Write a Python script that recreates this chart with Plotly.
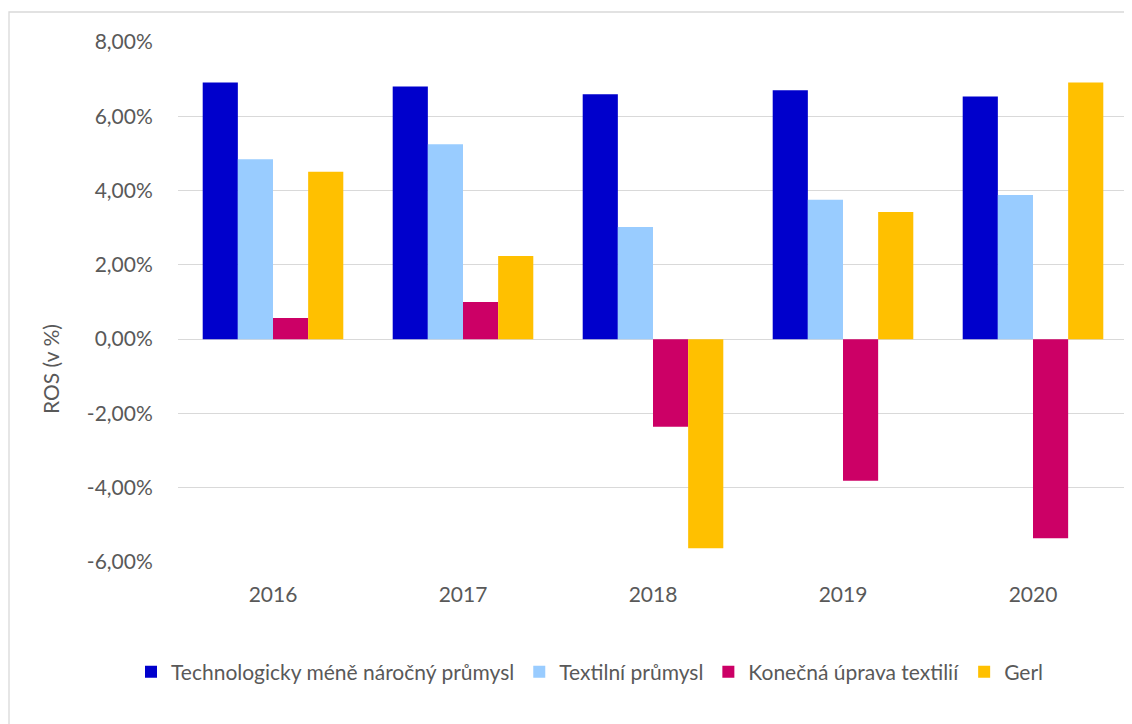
import plotly.graph_objects as go

years = ["2016", "2017", "2018", "2019", "2020"]
series_names = ["Technologicky méně náročný průmysl", "Textilní průmysl",
                "Konečná úprava textilií", "Gerl"]
tech = [6.91, 6.80, 6.59, 6.70, 6.53]
textil = [4.84, 5.25, 3.02, 3.75, 3.88]
uprava = [0.57, 1.00, -2.36, -3.81, -5.36]
gerl = [4.51, 2.24, -5.63, 3.42, 6.91]
colors = ["#0000CC", "#99CCFF", "#CC0066", "#FFC000"]
y_ticks = [-6, -4, -2, 0, 2, 4, 6, 8]
y_ticklabels = ["-6,00%", "-4,00%", "-2,00%", "0,00%", "2,00%", "4,00%", "6,00%", "8,00%"]

# page is offset by the 8px default body margin
OFF = 8
W, H = 1132 - OFF, 724 - OFF
L, R, T, B = 178 - OFF, 4, 42 - OFF, 162
PW, PH = W - L - R, H - T - B


def px_x(x):  # page x -> paper x
    return (x - OFF - L) / PW


def px_y(y):  # page y -> paper y
    return (H - B - (y - OFF)) / PH


fig = go.Figure()
for name, vals, c in zip(series_names, [tech, textil, uprava, gerl], colors):
    fig.add_trace(go.Bar(x=years, y=[v / 100 for v in vals], name=name,
                         marker=dict(color=c, line=dict(width=0))))

font_fam = "Lato, 'Open Sans', sans-serif"
txt = "#595959"
fig.update_layout(
    width=W, height=H,
    margin=dict(l=L, r=R, t=T, b=B),
    paper_bgcolor="white", plot_bgcolor="white",
    barmode="group", bargap=0.26, bargroupgap=0,
    font=dict(family=font_fam, color=txt, size=21),
    showlegend=True,
    legend=dict(orientation="h", xref="container", yref="container",
                x=(590 - OFF) / W, xanchor="center",
                y=1 - (672 - OFF) / H, yanchor="middle",
                font=dict(size=21, color=txt), itemclick=False,
                traceorder="normal", itemwidth=30),
    xaxis=dict(showgrid=False, showline=False, ticks="outside", ticklen=14,
               tickcolor="rgba(0,0,0,0)",
               tickfont=dict(size=21, color=txt)),
    yaxis=dict(range=[-0.06, 0.08], tickvals=[v / 100 for v in y_ticks],
               ticktext=y_ticklabels,
               showgrid=True, gridcolor="#D9D9D9", gridwidth=1.3,
               zeroline=True, zerolinecolor="#D9D9D9", zerolinewidth=1.3,
               showline=False, ticks="outside", ticklen=20,
               tickcolor="rgba(0,0,0,0)",
               tickfont=dict(size=21, color=txt)),
    annotations=[dict(text="ROS (v %)", xref="paper", yref="paper",
                      x=px_x(50), y=px_y(369),
                      xanchor="center", yanchor="middle", textangle=-90,
                      showarrow=False, font=dict(size=21, color=txt))],
    shapes=[dict(type="rect", xref="paper", yref="paper",
                 x0=px_x(9), x1=px_x(1160),
                 y0=px_y(760), y1=px_y(12),
                 line=dict(color="#D9D9D9", width=1.3), fillcolor="rgba(0,0,0,0)",
                 layer="below")],
)

fig.write_html("out.html")
